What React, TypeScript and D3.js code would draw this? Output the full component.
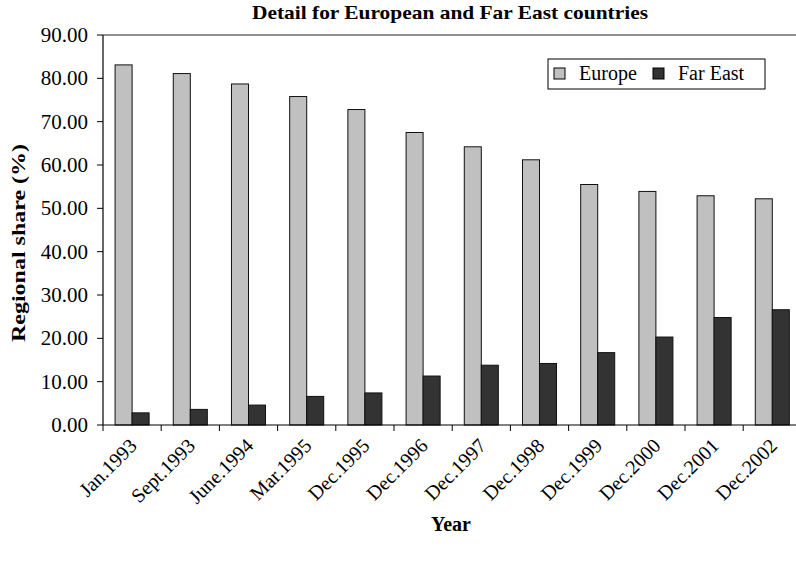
import React from 'react'
import * as d3 from 'd3'

const categories = [
  'Jan.1993', 'Sept.1993', 'June.1994', 'Mar.1995', 'Dec.1995', 'Dec.1996',
  'Dec.1997', 'Dec.1998', 'Dec.1999', 'Dec.2000', 'Dec.2001', 'Dec.2002',
]
const series = ['Europe', 'Far East']
const europe = [83.1, 81.1, 78.7, 75.8, 72.8, 67.5, 64.2, 61.2, 55.5, 53.9, 52.9, 52.2]
const farEast = [2.8, 3.6, 4.6, 6.6, 7.4, 11.3, 13.8, 14.2, 16.7, 20.3, 24.8, 26.6]
const yTicks = [0, 10, 20, 30, 40, 50, 60, 70, 80, 90]

const colors: Record<string, string> = { Europe: '#c0c0c0', 'Far East': '#333333' }
const font = '"Liberation Serif", "Times New Roman", serif'

const W = 796
const H = 565
const left = 103
const top = 35
const bottom = 425
const step = 58.2

export default function App() {
  // category scale, the last band runs off the right edge like the original
  const x0 = d3.scaleBand<string>()
    .domain(categories)
    .range([left, left + step * categories.length])
    .paddingInner(0)
    .paddingOuter(0)

  const x1 = d3.scaleBand<string>()
    .domain(series)
    .range([0, x0.bandwidth()])
    .paddingInner(0)
    .paddingOuter(0.71)

  const y = d3.scaleLinear().domain([0, 90]).range([bottom, top])

  const values: Record<string, number[]> = { Europe: europe, 'Far East': farEast }

  return (
    <svg width={W} height={H} style={{ position: 'absolute', left: 0, top: 0, background: '#fff' }}
      fontFamily={font}>
      <rect width={W} height={H} fill="#fff" />

      {/* title */}
      <text x={450} y={19} textAnchor="middle" fontSize={19} fontWeight="bold"
        textLength={396} lengthAdjust="spacingAndGlyphs">Detail for European and Far East countries</text>

      {/* plot frame top */}
      <line x1={left} x2={W} y1={top} y2={top} stroke="#222" strokeWidth={1.2} />

      {/* bars */}
      {categories.map((c, i) => (
        <g key={c} transform={`translate(${x0(c)},0)`}>
          {series.map(s => (
            <rect
              key={s}
              x={x1(s)}
              y={y(values[s][i])}
              width={x1.bandwidth()}
              height={bottom - y(values[s][i])}
              fill={colors[s]}
              stroke="#111"
              strokeWidth={1}
            />
          ))}
        </g>
      ))}

      {/* y axis */}
      <line x1={left} x2={left} y1={top} y2={bottom} stroke="#000" strokeWidth={1.2} />
      {yTicks.map(t => (
        <g key={t}>
          <line x1={left - 6} x2={left} y1={y(t)} y2={y(t)} stroke="#000" />
          <text x={88} y={y(t) + 7} textAnchor="end" fontSize={21}>{t.toFixed(2)}</text>
        </g>
      ))}

      {/* x axis */}
      <line x1={left} x2={W} y1={bottom} y2={bottom} stroke="#000" strokeWidth={1.2} />
      {categories.map(c => (
        <line key={c} x1={x0(c)} x2={x0(c)} y1={bottom} y2={bottom + 6} stroke="#000" />
      ))}
      {categories.map(c => {
        const cx = (x0(c) as number) + x0.bandwidth() / 2
        return (
          <text key={c} transform={`translate(${cx + 6},${bottom + 22}) rotate(-45)`}
            textAnchor="end" fontSize={20}>{c}</text>
        )
      })}

      {/* axis titles */}
      <text transform="translate(25,243) rotate(-90)" textAnchor="middle" fontSize={19}
        fontWeight="bold" textLength={198} lengthAdjust="spacingAndGlyphs">Regional share (%)</text>
      <text x={451} y={531} textAnchor="middle" fontSize={20} fontWeight="bold">Year</text>

      {/* legend */}
      <rect x={548} y={59} width={217} height={30} fill="#fff" stroke="#000" strokeWidth={1} />
      {series.map((s, i) => {
        const lx = i === 0 ? 554 : 653
        return (
          <g key={s}>
            <rect x={lx} y={68} width={11} height={11} fill={colors[s]} stroke="#000" />
            <text x={lx + 25} y={80} fontSize={20}>{s}</text>
          </g>
        )
      })}
    </svg>
  )
}
